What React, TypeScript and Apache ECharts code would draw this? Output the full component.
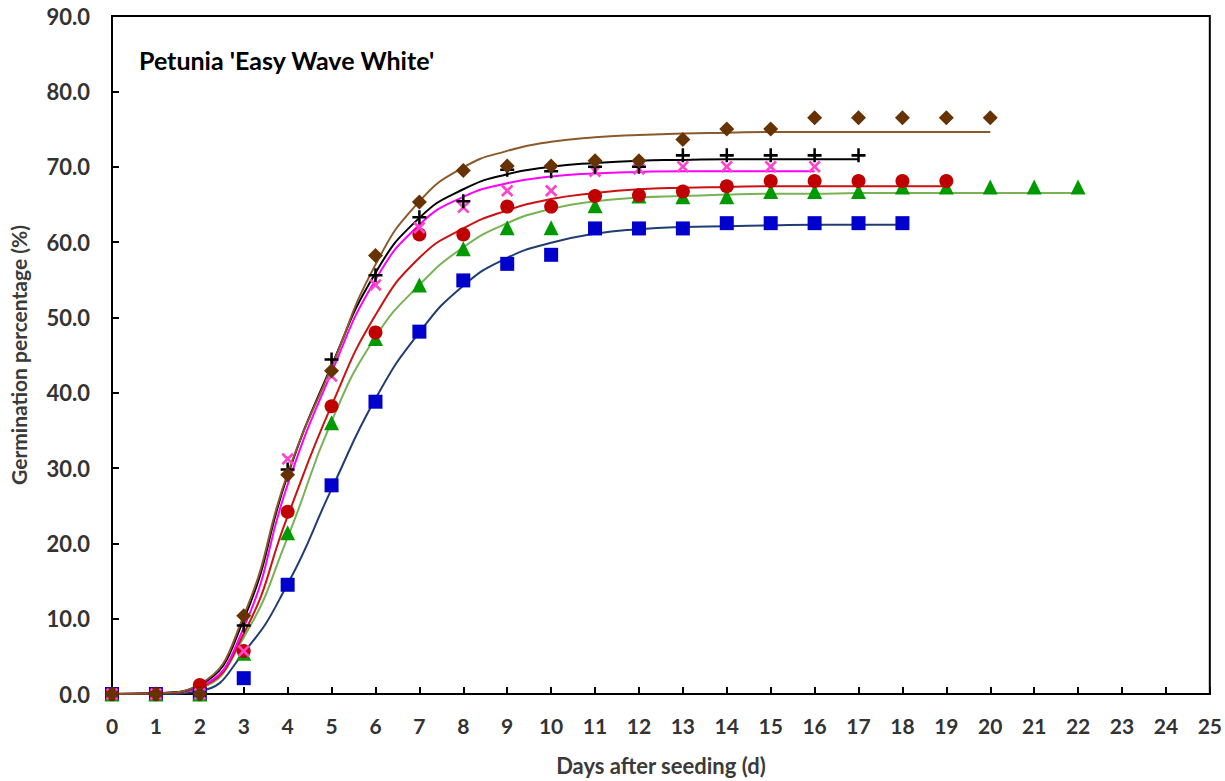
import React, { useEffect, useRef } from "react";
import * as echarts from "echarts";

const TITLE = "Petunia 'Easy Wave White'";
const X_NAME = "Days after seeding (d)";
const Y_NAME = "Germination percentage (%)";

// Observed germination (%) by day, starting at day 0
const brownPts = [0, 0, 0, 10.4, 29.1, 42.9, 58.2, 65.3, 69.5, 70.1, 70.1, 70.8, 70.8, 73.6, 75.0, 75.0, 76.5, 76.5, 76.5, 76.5, 76.5];
const blackPts = [0, 0, 0, 9.1, 29.8, 44.4, 55.6, 63.3, 65.4, 69.6, 69.4, 70.0, 70.0, 71.5, 71.5, 71.5, 71.5, 71.5];
const magentaPts = [0, 0, 0, 5.7, 31.2, 42.2, 54.3, 61.9, 64.6, 66.8, 66.8, 69.4, 69.7, 70.0, 70.0, 70.0, 70.0];
const redPts = [0, 0, 1.2, 5.7, 24.2, 38.2, 48.0, 61.0, 61.0, 64.7, 64.7, 66.1, 66.2, 66.7, 67.4, 68.1, 68.1, 68.1, 68.1, 68.1];
const greenPts = [0, 0, 0, 5.4, 21.4, 36.0, 47.2, 54.3, 59.1, 61.9, 61.9, 64.8, 66.1, 66.0, 66.0, 66.7, 66.7, 66.7, 67.3, 67.3, 67.3, 67.3, 67.3];
const bluePts = [0, 0, 0, 2.1, 14.5, 27.7, 38.8, 48.1, 54.9, 57.1, 58.3, 61.8, 61.8, 61.8, 62.5, 62.5, 62.5, 62.5, 62.5];

// Fitted curves read at each day
const brownFit = [0, 0.1, 1.3, 10.4, 29.3, 43.4, 57.0, 65.4, 69.9, 72.1, 73.3, 73.9, 74.2, 74.4, 74.5, 74.6, 74.6, 74.6, 74.6, 74.6, 74.6];
const blackFit = [0, 0.1, 1.2, 9.9, 29.0, 43.6, 55.9, 63.2, 67.0, 69.0, 70.0, 70.5, 70.8, 70.9, 71.0, 71.0, 71.0, 71.0];
const magentaFit = [0, 0.1, 1.0, 8.8, 27.8, 42.7, 55.0, 62.3, 66.0, 67.8, 68.7, 69.1, 69.3, 69.4, 69.4, 69.4, 69.4];
const redFit = [0, 0.1, 0.9, 8.0, 23.6, 38.3, 50.3, 57.9, 61.8, 64.2, 65.7, 66.5, 67.0, 67.2, 67.3, 67.4, 67.4, 67.4, 67.4, 67.4];
const greenFit = [0, 0.1, 0.8, 7.5, 20.8, 36.2, 47.4, 54.3, 59.3, 62.5, 64.4, 65.4, 65.9, 66.1, 66.3, 66.4, 66.4, 66.5, 66.5, 66.5, 66.5, 66.5, 66.5];
const blueFit = [0, 0.0, 0.4, 5.5, 14.6, 27.2, 39.2, 48.0, 54.2, 57.9, 59.9, 61.1, 61.7, 62.0, 62.1, 62.2, 62.3, 62.3, 62.3];

const X_MIN = 0, X_MAX = 25, X_STEP = 1;
const Y_MIN = 0, Y_MAX = 90, Y_STEP = 10;

const PLUS = "path://M4.1,0H5.9V4.1H10V5.9H5.9V10H4.1V5.9H0V4.1H4.1Z";

const FONT = "Lato, 'Open Sans', sans-serif";

const toXY = (arr: number[]) => arr.map((v, i) => [i, v]);

const groups = [
  { name: "blue", pts: bluePts, fit: blueFit, line: "#1F3D73", mark: "#0000CC", symbol: "rect", size: 14, rotate: 0 },
  { name: "green", pts: greenPts, fit: greenFit, line: "#77B255", mark: "#009900", symbol: "triangle", size: 15, rotate: 0 },
  { name: "red", pts: redPts, fit: redFit, line: "#CC1111", mark: "#C00000", symbol: "circle", size: 14, rotate: 0 },
  { name: "magenta", pts: magentaPts, fit: magentaFit, line: "#FF00FF", mark: "#FF44CC", symbol: PLUS, size: 15, rotate: 45 },
  { name: "black", pts: blackPts, fit: blackFit, line: "#000000", mark: "#000000", symbol: PLUS, size: 14, rotate: 0 },
  { name: "brown", pts: brownPts, fit: brownFit, line: "#8B5A2B", mark: "#663300", symbol: "diamond", size: 15, rotate: 0 },
];

export default function App() {
  const ref = useRef<HTMLDivElement>(null);
  useEffect(() => {
    if (!ref.current) return;
    const chart = echarts.init(ref.current, undefined, { renderer: "svg" });
    const lineSeries = groups.map((g) => ({
      type: "line",
      name: g.name + " fit",
      data: toXY(g.fit),
      smooth: 0.5,
      symbol: "none",
      lineStyle: { color: g.line, width: 2 },
      z: 2,
    }));
    const scatterSeries = groups.map((g) => ({
      type: "scatter",
      name: g.name,
      data: toXY(g.pts),
      symbol: g.symbol,
      symbolSize: g.size,
      symbolRotate: g.rotate,
      itemStyle: { color: g.mark, opacity: 1 },
      z: 3,
    }));
    chart.setOption({
      animation: false,
      backgroundColor: "#ffffff",
      title: {
        text: TITLE,
        left: 134,
        top: 42,
        textStyle: { fontFamily: FONT, fontSize: 25, fontWeight: "bold", color: "#000" },
      },
      grid: {
        left: 110,
        right: 15,
        top: 16,
        bottom: 83,
        show: true,
        borderColor: "#000",
        borderWidth: 2,
        backgroundColor: "transparent",
      },
      xAxis: {
        type: "value",
        min: X_MIN,
        max: X_MAX,
        interval: X_STEP,
        name: X_NAME,
        nameLocation: "middle",
        nameGap: 60,
        nameTextStyle: { fontFamily: FONT, fontSize: 22, fontWeight: "bold", color: "#3a3a3a" },
        axisLine: { lineStyle: { color: "#000", width: 2 } },
        axisTick: { inside: true, length: 7, lineStyle: { color: "#000", width: 2 } },
        axisLabel: { fontFamily: FONT, fontSize: 21, fontWeight: "bold", color: "#333", margin: 21 },
        splitLine: { show: false },
      },
      yAxis: {
        type: "value",
        min: Y_MIN,
        max: Y_MAX,
        interval: Y_STEP,
        name: Y_NAME,
        nameLocation: "middle",
        nameGap: 83,
        nameTextStyle: { fontFamily: FONT, fontSize: 21, fontWeight: "bold", color: "#3a3a3a" },
        axisLine: { lineStyle: { color: "#000", width: 2 } },
        axisTick: { inside: true, length: 7, lineStyle: { color: "#000", width: 2 } },
        axisLabel: {
          fontFamily: FONT,
          fontSize: 22,
          fontWeight: "bold",
          color: "#333",
          margin: 22,
          formatter: (v: number) => v.toFixed(1),
        },
        splitLine: { show: false },
      },
      series: [...lineSeries, ...scatterSeries],
    });
    return () => chart.dispose();
  }, []);
  return (
    <div
      ref={ref}
      style={{ position: "fixed", left: 0, top: 0, width: 1225, height: 781, background: "#fff" }}
    />
  );
}
